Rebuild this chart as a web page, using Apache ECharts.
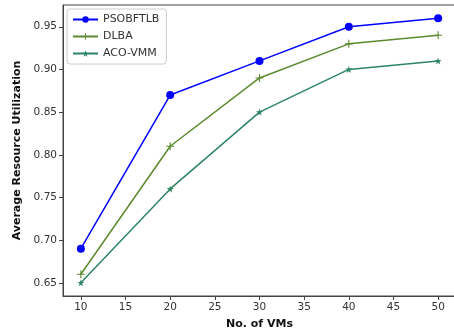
<!DOCTYPE html>
<html>
<head>
<meta charset="utf-8">
<script src="https://cdn.jsdelivr.net/npm/echarts@6/dist/echarts.min.js"></script>
<style>
  html, body { margin: 0; padding: 0; background: #fff; }
  #chart { width: 454px; height: 336px; }
</style>
</head>
<body>
<div id="chart"></div>
<script>
// Number of virtual machines
const vmCounts = [10, 20, 30, 40, 50];
// Average resource utilization per method
const psobftlb = [0.69, 0.87, 0.91, 0.95, 0.96];
const dlba = [0.66, 0.81, 0.89, 0.93, 0.94];
const acoVmm = [0.65, 0.76, 0.85, 0.90, 0.91];
// Tick labels
const xTicks = [10, 15, 20, 25, 30, 35, 40, 45, 50];
const yTicks = [0.65, 0.70, 0.75, 0.80, 0.85, 0.90, 0.95];

const plusPath = 'path://M4.3,0H5.7V4.3H10V5.7H5.7V10H4.3V5.7H0V4.3H4.3Z';
const starPath = 'path://M5,0L6.2,3.6L10,3.6L6.9,5.9L8.1,9.5L5,7.3L1.9,9.5L3.1,5.9L0,3.6L3.8,3.6Z';

const pair = (xs, ys) => xs.map((x, i) => [x, ys[i]]);
const axisColor = '#444';
const textColor = '#333';
const font = 'DejaVu Sans';

const chart = echarts.init(document.getElementById('chart'), null, { renderer: 'canvas' });
chart.setOption({
  animation: false,
  backgroundColor: '#fff',
  grid: { left: 63, width: 393, top: 5, height: 291, containLabel: false,
          outerBoundsMode: 'none',
          show: true, borderColor: axisColor, borderWidth: 1 },
  legend: {
    orient: 'vertical', left: 67, top: 9,
    itemWidth: 25, itemHeight: 8, itemGap: 6,
    padding: [5, 7, 5, 5],
    borderColor: '#cccccc', borderWidth: 1, borderRadius: 3,
    backgroundColor: 'rgba(255,255,255,0.8)',
    textStyle: { fontFamily: font, fontSize: 11, color: textColor },
    data: ['PSOBFTLB', 'DLBA', 'ACO-VMM']
  },
  xAxis: {
    type: 'value', min: 8, max: 52,
    name: 'No. of VMs', nameLocation: 'middle', nameGap: 23,
    nameTextStyle: { fontFamily: font, fontSize: 11, fontWeight: 'bold', color: '#111' },
    axisLine: { show: true, onZero: false, lineStyle: { color: axisColor } },
    axisTick: { show: true, length: 4, customValues: xTicks, lineStyle: { color: axisColor } },
    axisLabel: { customValues: xTicks, fontFamily: font, fontSize: 10.5, color: textColor, margin: 6 },
    splitLine: { show: false }
  },
  yAxis: {
    type: 'value', min: 0.6345, max: 0.9755,
    name: 'Average Resource Utilization', nameLocation: 'middle', nameGap: 40, nameRotate: 90,
    nameTextStyle: { fontFamily: font, fontSize: 11, fontWeight: 'bold', color: '#111' },
    axisLine: { show: true, onZero: false, lineStyle: { color: axisColor } },
    axisTick: { show: true, length: 4, customValues: yTicks, lineStyle: { color: axisColor } },
    axisLabel: { customValues: yTicks, fontFamily: font, fontSize: 10.5, color: textColor, margin: 6,
                 formatter: v => v.toFixed(2) },
    splitLine: { show: false }
  },
  series: [
    {
      name: 'PSOBFTLB', type: 'line', data: pair(vmCounts, psobftlb),
      color: '#0000ff', symbol: 'circle', symbolSize: 8,
      lineStyle: { width: 1.5, color: '#0000ff' }, itemStyle: { color: '#0000ff' }
    },
    {
      name: 'DLBA', type: 'line', data: pair(vmCounts, dlba),
      color: '#5b8a2e', symbol: plusPath, symbolSize: 8,
      lineStyle: { width: 1.5, color: '#5b8a2e' }, itemStyle: { color: '#5b8a2e' }
    },
    {
      name: 'ACO-VMM', type: 'line', data: pair(vmCounts, acoVmm),
      color: '#2e8563', symbol: starPath, symbolSize: 7,
      lineStyle: { width: 1.5, color: '#2e8563' }, itemStyle: { color: '#2e8563' }
    }
  ]
});
</script>
</body>
</html>
